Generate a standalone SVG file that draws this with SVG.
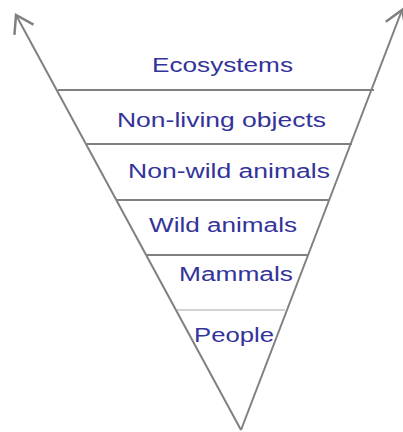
<svg xmlns="http://www.w3.org/2000/svg" width="403" height="432" viewBox="0 0 403 432">
  <style>
    .edge { stroke: #808080; stroke-width: 2; fill: none; }
    .thin { stroke: #a6a6a6; stroke-width: 1.2; fill: none; }
    .lbl { font-family: "Liberation Sans", Arial, sans-serif; font-size: 20px; fill: #33339a; }
  </style>
  <defs>
    <marker id="open" markerUnits="userSpaceOnUse" markerWidth="30" markerHeight="30" viewBox="-16 -12 20 24" refX="0" refY="0" orient="auto">
      <path d="M-13.4,-8.7 L0,0 L-13.4,8.7" stroke="#808080" stroke-width="2" fill="none"/>
    </marker>
  </defs>
  <rect width="403" height="432" fill="#ffffff"/>
  <g id="connectors">
    <line class="edge" x1="241" y1="430" x2="16" y2="15" marker-end="url(#open)"/>
    <line class="edge" x1="241" y1="430" x2="402" y2="10" marker-end="url(#open)"/>
  </g>
  <g id="layer-ecosystems">
    <text class="lbl" x="152" y="72" textLength="141" lengthAdjust="spacingAndGlyphs">Ecosystems</text>
  </g>
  <g id="layer-nonliving">
    <line class="edge" x1="58" y1="90" x2="374" y2="90"/>
    <text class="lbl" x="117" y="127" textLength="209" lengthAdjust="spacingAndGlyphs">Non-living objects</text>
  </g>
  <g id="layer-nonwild">
    <line class="edge" x1="87" y1="144" x2="352" y2="144"/>
    <text class="lbl" x="128" y="178" textLength="202" lengthAdjust="spacingAndGlyphs">Non-wild animals</text>
  </g>
  <g id="layer-wild">
    <line class="edge" x1="117" y1="200" x2="330" y2="200"/>
    <text class="lbl" x="149" y="232" textLength="148" lengthAdjust="spacingAndGlyphs">Wild animals</text>
  </g>
  <g id="layer-mammals">
    <line class="edge" x1="147" y1="255" x2="308" y2="255"/>
    <text class="lbl" x="179" y="281" textLength="114" lengthAdjust="spacingAndGlyphs">Mammals</text>
  </g>
  <g id="layer-people">
    <line class="thin" x1="177" y1="310" x2="285" y2="310"/>
    <text class="lbl" x="194" y="342" textLength="80" lengthAdjust="spacingAndGlyphs">People</text>
  </g>
</svg>
